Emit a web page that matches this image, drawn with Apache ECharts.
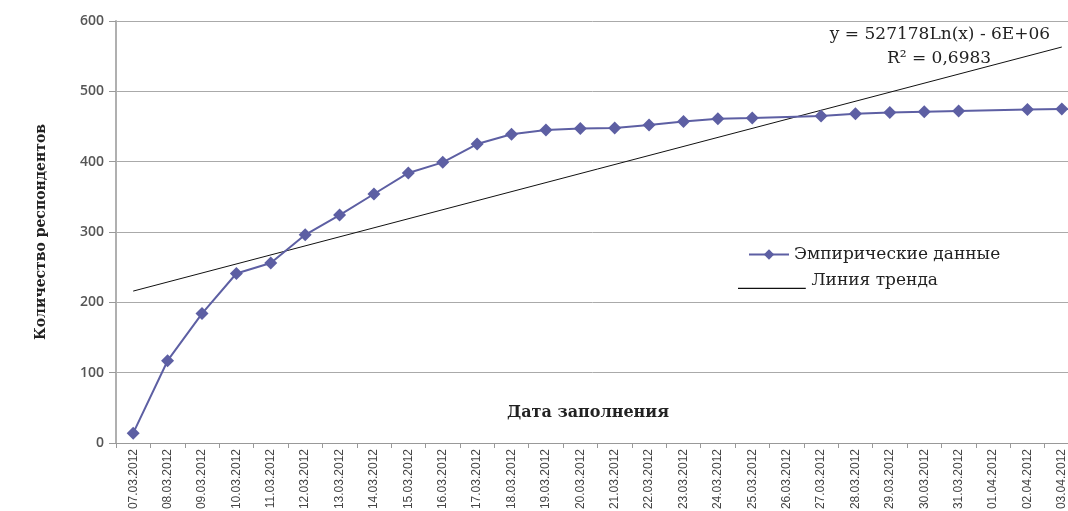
<!DOCTYPE html>
<html>
<head>
<meta charset="utf-8">
<script src="https://cdn.jsdelivr.net/npm/echarts@6/dist/echarts.min.js"></script>
<style>html,body{margin:0;padding:0;background:#fff}#c{width:1068px;height:511px}</style>
</head>
<body>
<div id="c"></div>
<script>
var categories = ['07.03.2012','08.03.2012','09.03.2012','10.03.2012','11.03.2012','12.03.2012','13.03.2012','14.03.2012','15.03.2012','16.03.2012','17.03.2012','18.03.2012','19.03.2012','20.03.2012','21.03.2012','22.03.2012','23.03.2012','24.03.2012','25.03.2012','26.03.2012','27.03.2012','28.03.2012','29.03.2012','30.03.2012','31.03.2012','01.04.2012','02.04.2012','03.04.2012'];
var empirical = [14,117,184,241,256,296,324,354,384,399,425,439,445,447,448,452,457,461,462,null,465,468,470,471,472,null,474,475];
var trendPoints = [['07.03.2012',216],['03.04.2012',563]];
var yTicks = {min:0, max:600, interval:100};
var seriesNames = ['Эмпирические данные','Линия тренда'];

var chart = echarts.init(document.getElementById('c'), null, {renderer:'canvas'});
var serif = "'DejaVu Serif','Liberation Serif',serif";
var sans = "'Liberation Sans Narrow','Liberation Sans',Arial,sans-serif";
chart.setOption({
  backgroundColor:'#fff',
  animation:false,
  grid:{left:116, top:21, width:963, height:422, containLabel:false, outerBoundsMode:'none'},
  legend:[
    {
      left:743, top:241, itemWidth:40, itemHeight:13,
      textStyle:{fontFamily:serif, fontSize:17, color:'#222'},
      data:[{name:seriesNames[0]}]
    },
    {
      left:733, top:267, itemWidth:69, itemHeight:17, symbolKeepAspect:true,
      textStyle:{fontFamily:serif, fontSize:17, color:'#222'},
      data:[{name:seriesNames[1], icon:'path://M0,0L0.01,0L0.01,0.01L0,0.01Z M0,16L69,16L69,17.3L0,17.3Z'}]
    }
  ],
  xAxis:{
    type:'category', data:categories, boundaryGap:true,
    axisLine:{lineStyle:{color:'#999'}},
    axisTick:{show:true, interval:0, length:5, lineStyle:{color:'#999'}},
    axisLabel:{interval:0, rotate:90, fontFamily:sans, fontSize:12, color:'#444', margin:6}
  },
  yAxis:{
    type:'value', min:yTicks.min, max:yTicks.max, interval:yTicks.interval,
    name:'Количество респондентов', nameLocation:'middle', nameRotate:90, nameGap:68,
    nameTextStyle:{fontFamily:serif, fontWeight:'bold', fontSize:14, color:'#222'},
    axisLine:{show:true, lineStyle:{color:'#b0b0b0', width:2}},
    axisTick:{show:true, length:7, lineStyle:{color:'#999'}},
    axisLabel:{fontFamily:"'Open Sans',sans-serif", fontWeight:600, fontSize:14, color:'#555', margin:12},
    splitLine:{lineStyle:{color:'#aaa', width:1}}
  },
  series:[
    {name:seriesNames[1], type:'line', data:trendPoints, symbol:'none', z:3,
     lineStyle:{color:'#111', width:1}, itemStyle:{color:'#111'}},
    {name:seriesNames[0], type:'line', data:empirical, connectNulls:true,
     symbol:'diamond', symbolSize:13, z:4,
     lineStyle:{color:'#5d5fa3', width:2}, itemStyle:{color:'#5d5fa3'}}
  ],
  graphic:[
    {type:'text', style:{text:'Дата заполнения', x:588, y:413, align:'center', verticalAlign:'middle', font:"bold 16px 'DejaVu Serif', serif", fill:'#222'}},
    {type:'text', style:{text:'y = 527178Ln(x) - 6E+06', x:940, y:35, align:'center', verticalAlign:'middle', font:"17px 'DejaVu Serif', serif", fill:'#222'}},
    {type:'text', style:{text:'R² = 0,6983', x:939, y:59, align:'center', verticalAlign:'middle', font:"17px 'DejaVu Serif', serif", fill:'#222'}}
  ]
});
</script>
</body>
</html>
